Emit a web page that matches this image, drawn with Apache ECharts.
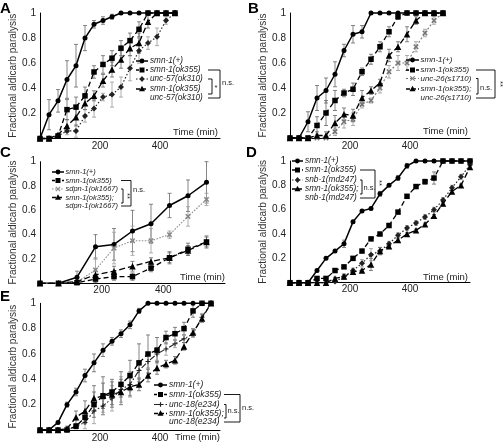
<!DOCTYPE html>
<html><head><meta charset="utf-8">
<script src="https://cdn.jsdelivr.net/npm/echarts@6/dist/echarts.min.js"></script>
<style>html,body{margin:0;padding:0;background:#fff}#c{width:504px;height:443px}</style>
</head><body><div id="c"></div>
<script>
// ---------- DATA ----------
const xTicks = [200, 400];
const yTicks = [0.2, 0.4, 0.6, 0.8, 1];

// Panel A (unc-57)
const timeA = [0,30,60,90,120,150,180,210,240,270,300,330,360,390,420,450];
const aWt     = [0,0.19,0.30,0.47,0.58,0.80,0.91,0.94,0.97,1,1,1,1,1,1,1];
const aWtErr  = [0,0.12,0.09,0.15,0.17,0.10,0.03,0.03,0.02,0,0,0,0,0,0,0];
const aSmn    = [0,0,0.02,0.23,0.25,0.34,0.53,0.59,0.64,0.72,0.78,0.87,1,1,1,1];
const aSmnErr = [0,0,0.01,0.08,0.08,0.07,0.05,0.07,0.06,0.06,0.06,0.06,0,0,0,0];
const aMut    = [0,0,0.02,0.06,0.06,0.18,0.24,0.33,0.35,0.41,0.56,0.70,0.76,0.81,0.94,1];
const aMutErr = [0,0,0.01,0.03,0.05,0.05,0.07,0.03,0.10,0.08,0.10,0.10,0.05,0.07,0.03,0];
const aDbl    = [0,0,0.03,0.10,0.17,0.28,0.34,0.46,0.55,0.63,0.72,0.76,0.93,1,1,1];
const aDblErr = [0,0,0.01,0.05,0.07,0.05,0.04,0.05,0.06,0.07,0.06,0.08,0.05,0,0,0];
const labelsA = ['smn-1(+)','smn-1(ok355)','unc-57(ok310)','smn-1(ok355)','unc-57(ok310)'];

// Panel B (unc-26)
const timeB = [0,30,60,90,120,150,180,210,240,270,300,330,360,390,420,450,480,510];
const bWt     = [0,0,0.13,0.32,0.38,0.51,0.70,0.83,0.85,1,1,1,1,1,1,1,1,1];
const bWtErr  = [0,0,0.08,0.10,0.10,0.10,0.05,0.07,0.05,0,0,0,0,0,0,0,0,0];
const bSmn    = [0,0,0,0.10,0.20,0.30,0.36,0.39,0.53,0.63,0.73,0.85,0.97,1,1,1,1,1];
const bSmnErr = [0,0,0,0.07,0.10,0.08,0.03,0.05,0.03,0.04,0.04,0.04,0.02,0,0,0,0,0];
const bMut    = [0,0,0,0,0,0.05,0.13,0.15,0.27,0.30,0.40,0.53,0.60,0.60,0.73,0.84,0.94,1];
const bMutErr = [0,0,0,0,0,0.03,0.05,0.05,0.03,0.02,0.04,0.05,0.06,0.06,0.04,0.03,0.03,0];
const bDbl    = [0,0,0,0.02,0.02,0.12,0.19,0.18,0.32,0.38,0.44,0.66,0.73,0.83,0.94,1,1,1];
const bDblErr = [0,0,0,0.03,0.03,0.06,0.05,0.05,0.06,0.03,0.03,0.05,0.04,0.06,0.03,0,0,0];
const labelsB = ['smn-1(+)','smn-1(ok355)','unc-26(s1710)','smn-1(ok355);','unc-26(s1710)'];

// Panel C (sdpn-1)
const timeC = [0,60,120,180,240,300,360,420,480,540];
const cWt     = [0,0,0.05,0.30,0.32,0.43,0.49,0.64,0.72,0.83];
const cWtErr  = [0,0,0.05,0.10,0.13,0.17,0.16,0.10,0.13,0.17];
const cSmn    = [0,0,0.005,0.035,0.055,0.055,0.125,0.21,0.28,0.34];
const cSmnErr = [0,0,0.01,0.03,0.03,0.03,0.03,0.05,0.05,0.05];
const cMut    = [0,0,0.01,0.11,0.29,0.35,0.35,0.40,0.55,0.69];
const cMutErr = [0,0,0.02,0.10,0.13,0.12,0.10,0.03,0.08,0.05];
const cDbl    = [0,0,0.015,0.07,0.10,0.14,0.18,0.21,0.27,0.34];
const cDblErr = [0,0,0.01,0.03,0.04,0.04,0.03,0.04,0.04,0.04];
const labelsC = ['smn-1(+)','smn-1(ok355)','sdpn-1(ok1667)','smn-1(ok355);','sdpn-1(ok1667)'];

// Panel D (snb-1)
const timeD = [0,30,60,90,120,150,180,210,240,270,300,330,360,390,420,450,480,510,540,570,600];
const dWt     = [0,0,0,0.10,0.20,0.26,0.32,0.50,0.59,0.61,0.73,0.80,0.86,0.96,1,1,1,1,1,1,1];
const dWtErr  = [0,0,0,0.01,0.01,0.01,0.03,0.01,0.01,0.01,0.02,0.01,0.02,0.02,0,0,0,0,0,0,0];
const dSmn    = [0,0,0,0.035,0.035,0.10,0.13,0.20,0.26,0.36,0.40,0.47,0.58,0.71,0.79,0.83,0.86,1,1,1,1];
const dSmnErr = [0,0,0,0.01,0.01,0.01,0.01,0.01,0.01,0.01,0.01,0.01,0.01,0.01,0.01,0.02,0.05,0,0,0,0];
const dMut    = [0,0,0,0,0,0.01,0.05,0.10,0.16,0.23,0.26,0.32,0.39,0.45,0.49,0.54,0.60,0.68,0.78,0.87,0.97];
const dMutErr = [0,0,0,0,0,0.01,0.02,0.02,0.03,0.05,0.03,0.02,0.02,0.02,0.02,0.02,0.02,0.02,0.02,0.02,0.02];
const dDbl    = [0,0,0,0,0,0.035,0.05,0.09,0.10,0.15,0.26,0.30,0.35,0.40,0.43,0.48,0.55,0.65,0.75,0.80,0.95];
const dDblErr = [0,0,0,0,0,0.01,0.02,0.01,0.01,0.05,0.03,0.02,0.01,0.01,0.01,0.01,0.01,0.02,0.01,0.01,0.02];
const labelsD = ['smn-1(+)','smn-1(ok355)','snb-1(md247)','smn-1(ok355);','snb-1(md247)'];

// Panel E (unc-18)
const timeE = [0,30,60,90,120,150,180,210,240,270,300,330,360,390,420,450,480,510,540,570];
const eWt     = [0,0,0.06,0.20,0.30,0.43,0.53,0.63,0.70,0.76,0.83,0.94,1,1,1,1,1,1,1,1];
const eWtErr  = [0,0,0.01,0.02,0.03,0.05,0.07,0.05,0.03,0.03,0.03,0.02,0,0,0,0,0,0,0,0];
const eSmn    = [0,0,0,0,0.03,0.10,0.20,0.27,0.30,0.36,0.43,0.53,0.60,0.63,0.73,0.76,0.80,0.94,1,1];
const eSmnErr = [0,0,0,0,0.02,0.05,0.10,0.10,0.10,0.10,0.12,0.15,0.15,0.10,0.05,0.05,0.05,0.05,0,0];
const eMut    = [0,0,0,0,0.03,0.06,0.15,0.19,0.25,0.32,0.36,0.47,0.54,0.60,0.64,0.68,0.72,0.76,0.89,1];
const eMutErr = [0,0,0,0,0.02,0.05,0.10,0.05,0.10,0.10,0.10,0.07,0.05,0.05,0.05,0.03,0.03,0.03,0.03,0];
const eDbl    = [0,0,0,0.01,0.10,0.15,0.25,0.27,0.28,0.30,0.34,0.36,0.43,0.49,0.52,0.55,0.66,0.77,0.88,1];
const eDblErr = [0,0,0,0.02,0.05,0.08,0.10,0.15,0.10,0.10,0.07,0.05,0.05,0.05,0.03,0.03,0.03,0.03,0.03,0];
const labelsE = ['smn-1(+)','smn-1(ok355)','unc-18(e234)','smn-1(ok355);','unc-18(e234)'];

// ---------- RENDER ----------
const FF = '"Liberation Sans", Arial, sans-serif';
const XP = 'path://M2,0L5,3L8,0L10,2L7,5L10,8L8,10L5,7L2,10L0,8L3,5L0,2Z';
const PP = 'path://M4,0H6V4H10V6H6V10H4V6H0V4H4Z';
const chart = echarts.init(document.getElementById('c'));
const grids=[], xAxes=[], yAxes=[], series=[], graphics=[];

const stWt  = {type:'solid', width:1.5, symbol:'circle', size:5, color:'#000', mk:'circle'};
const stSmn = {type:[5,3], width:1.3, symbol:'rect', size:5.5, color:'#000', mk:'rect'};
const stDbl = {type:[6,3], width:1.3, symbol:'triangle', size:6.5, color:'#000', mk:'triangle'};

function errSeries(gi, times, vals, errs, color){
  return {type:'custom', xAxisIndex:gi, yAxisIndex:gi, clip:false, silent:true, z:1,
    encode:{x:0,y:1},
    data: times.map((t,i)=>[t, vals[i], errs[i]]),
    renderItem:(p,api)=>{
      const e=api.value(2); if(!e) return null;
      const x=api.value(0), y=api.value(1);
      const a=api.coord([x,Math.min(1,y+e)]), b=api.coord([x,Math.max(0,y-e)]);
      const st={stroke:color, lineWidth:0.8};
      return {type:'group', children:[
        {type:'line', shape:{x1:a[0],y1:a[1],x2:b[0],y2:b[1]}, style:st},
        {type:'line', shape:{x1:a[0]-2,y1:a[1],x2:a[0]+2,y2:a[1]}, style:st},
        {type:'line', shape:{x1:b[0]-2,y1:b[1],x2:b[0]+2,y2:b[1]}, style:st}]};
    }};
}
function lineSeries(gi, name, times, vals, st){
  return {type:'line', name, xAxisIndex:gi, yAxisIndex:gi, clip:false, z:3,
    data: times.map((t,i)=>[t, vals[i]]), symbol:st.symbol, symbolSize:st.size,
    lineStyle:{color:st.color, width:st.width, type:st.type},
    itemStyle:{color:st.color}, emphasis:{disabled:true}, animation:false};
}
function marker(mk, cx, cy, color){
  const s={fill:color};
  if(mk==='circle') return {type:'circle', shape:{cx,cy,r:2.4}, style:s};
  if(mk==='rect') return {type:'rect', shape:{x:cx-2.5,y:cy-2.5,width:5,height:5}, style:s};
  if(mk==='triangle') return {type:'polygon', shape:{points:[[cx,cy-3.2],[cx+3,cy+2.2],[cx-3,cy+2.2]]}, style:s};
  if(mk==='diamond') return {type:'polygon', shape:{points:[[cx,cy-3],[cx+2.6,cy],[cx,cy+3],[cx-2.6,cy]]}, style:s};
  if(mk==='x') return {type:'group', children:[
    {type:'line', shape:{x1:cx-2.2,y1:cy-2.2,x2:cx+2.2,y2:cy+2.2}, style:{stroke:color,lineWidth:1.1}},
    {type:'line', shape:{x1:cx-2.2,y1:cy+2.2,x2:cx+2.2,y2:cy-2.2}, style:{stroke:color,lineWidth:1.1}}]};
  return {type:'group', children:[
    {type:'line', shape:{x1:cx-2.3,y1:cy,x2:cx+2.3,y2:cy}, style:{stroke:color,lineWidth:1.1}},
    {type:'line', shape:{x1:cx,y1:cy-2.3,x2:cx,y2:cy+2.3}, style:{stroke:color,lineWidth:1.1}}]};
}
function txt(x,y,text,font,opt){
  opt=opt||{};
  return {type:'text', x, y, rotation:opt.rot||0, silent:true, z:10,
    style:{text, font, fill:opt.fill||'#222', align:opt.align||'left', verticalAlign:'middle',
           textAlign:opt.align||'left', textVerticalAlign:'middle'}};
}

function panel(gi, box, times, sets, stMut, letter, L, timePos){
  grids.push({left:box[0], top:box[1], width:box[2], height:box[3]});
  xAxes.push({type:'value', gridIndex:gi, min:0, max:600, interval:200,
    axisLine:{lineStyle:{color:'#000', width:1}}, axisTick:{show:false}, splitLine:{show:false},
    axisLabel:{fontFamily:FF, fontSize:10, color:'#222', margin:box[4]||3,
      formatter:v=>xTicks.includes(v)?String(v):''}});
  yAxes.push({type:'value', gridIndex:gi, min:0, max:1, interval:0.2,
    axisLine:{show:true, lineStyle:{color:'#000', width:1}}, axisTick:{show:false}, splitLine:{show:false},
    axisLabel:{fontFamily:FF, fontSize:10, color:'#222', margin:4,
      formatter:v=>{const r=Math.round(v*10)/10; return yTicks.includes(r)?String(r):'';}},
    name:'Fractional aldicarb paralysis', nameLocation:'middle', nameGap:21, nameRotate:90,
    nameTextStyle:{fontFamily:FF, fontSize:10, color:'#333'}});
  const sts=[stWt, stSmn, stMut, stDbl];
  const order=[0,2,3,1];
  order.forEach(k=>{
    series.push(errSeries(gi, times, sets[k][0], sets[k][1], k===2?'#999':'#666'));
    series.push(lineSeries(gi, 's'+gi+k, times, sets[k][0], sts[k]));
  });
  graphics.push(txt(letter[1], letter[2], letter[0], 'bold 15px '+FF, {fill:'#000'}));
  graphics.push(txt(timePos[0], timePos[1], 'Time (min)', '9.5px '+FF, {align:'right'}));
  const f='italic '+L.fs+'px '+FF;
  for(let r=0;r<4;r++){
    const y=L.rows[r], st=sts[r];
    const d = r===0?null:(r===1?[3,2]:(r===3?[4,2]:(Array.isArray(st.type)?st.type:null)));
    graphics.push({type:'line', shape:{x1:L.x1,y1:y,x2:L.x2,y2:y}, z:10,
      style:{stroke:st.color, lineWidth:st.width, lineDash:d}});
    graphics.push(Object.assign(marker(st.mk, (L.x1+L.x2)/2, y, st.color), {z:11}));
  }
  for(let r=0;r<5;r++) graphics.push(txt(L.tx, L.rows[r], L.labels[r], f));
  const bs={stroke:'#000', lineWidth:0.9};
  graphics.push({type:'polyline', z:10, shape:{points:[[L.bx0,L.rows[2]],[L.in,L.rows[2]],[L.in,L.inB],[L.bx0,L.inB]]}, style:bs});
  graphics.push({type:'polyline', z:10, shape:{points:[[L.bx0,L.rows[1]],[L.out,L.rows[1]],[L.out,L.outB],[L.bx0,L.outB]]}, style:bs});
  graphics.push(txt(L.inT[0], L.inT[1], L.inT[2], '7.5px '+FF, {rot:L.inT[3]||0, align:L.inT[3]?'center':'left'}));
  graphics.push(txt(L.outT[0], L.outT[1], L.outT[2], '7.5px '+FF, {rot:L.outT[3]||0, align:L.outT[3]?'center':'left'}));
}

panel(0, [40,13,180,125.5,3], timeA, [[aWt,aWtErr],[aSmn,aSmnErr],[aMut,aMutErr],[aDbl,aDblErr]],
  {type:[1.5,2], width:1.2, symbol:'diamond', size:6, color:'#222', mk:'diamond'},
  ['A',0,9], {x1:136,x2:148,tx:150,fs:8.2,rows:[61,70,79,89,98],labels:labelsA,
   bx0:208,in:212,inB:94,out:220,outB:98, inT:[214.5,88,'*'], outT:[222,83,'n.s.']}, [218,132]);

panel(1, [290,13,180,125,3], timeB, [[bWt,bWtErr],[bSmn,bSmnErr],[bMut,bMutErr],[bDbl,bDblErr]],
  {type:[2,2], width:1.1, symbol:XP, size:5.5, color:'#777', mk:'x'},
  ['B',248,9], {x1:406,x2:419,tx:420.5,fs:7.9,rows:[60,70,78.5,89,97.7],labels:labelsB,
   bx0:476,in:478,inB:94,out:495,outB:98, inT:[480,88,'n.s.'], outT:[500,84,'**',-Math.PI/2]}, [468,131]);

panel(2, [40,161.7,185,121.6,2], timeC, [[cWt,cWtErr],[cSmn,cSmnErr],[cMut,cMutErr],[cDbl,cDblErr]],
  {type:[1.5,1.5], width:1.1, symbol:XP, size:5.5, color:'#888', mk:'x'},
  ['C',0,153], {x1:52,x2:64,tx:65.5,fs:7.5,rows:[172,180.5,189,197.5,206],labels:labelsC,
   bx0:121,in:123,inB:203,out:131,outB:206, inT:[127,196,'**',-Math.PI/2], outT:[133,190,'n.s.']}, [225,277]);

panel(3, [290,161,180,121.7,2], timeD, [[dWt,dWtErr],[dSmn,dSmnErr],[dMut,dMutErr],[dDbl,dDblErr]],
  {type:[1.5,2], width:1.2, symbol:'diamond', size:6, color:'#222', mk:'diamond'},
  ['D',246,153], {x1:292,x2:303,tx:305,fs:8.3,rows:[161,170,180,189,198],labels:labelsD,
   bx0:360,in:362,inB:194,out:375,outB:198, inT:[363.5,188,'n.s.'], outT:[379,183,'**',-Math.PI/2]}, [468,277]);

panel(4, [40,303.3,180,126.7,3], timeE, [[eWt,eWtErr],[eSmn,eSmnErr],[eMut,eMutErr],[eDbl,eDblErr]],
  {type:[6,2,1.5,2], width:1.1, symbol:PP, size:5, color:'#222', mk:'plus'},
  ['E',0,297], {x1:154,x2:167,tx:169,fs:8.5,rows:[385,394.5,404.5,413.5,422],labels:labelsE,
   bx0:224,in:226,inB:418,out:240,outB:422, inT:[227.5,411,'n.s.'], outT:[242,408,'n.s.']}, [220,437]);

chart.setOption({animation:false, grid:grids, xAxis:xAxes, yAxis:yAxes, series, graphic:{elements:graphics}});
</script></body></html>
